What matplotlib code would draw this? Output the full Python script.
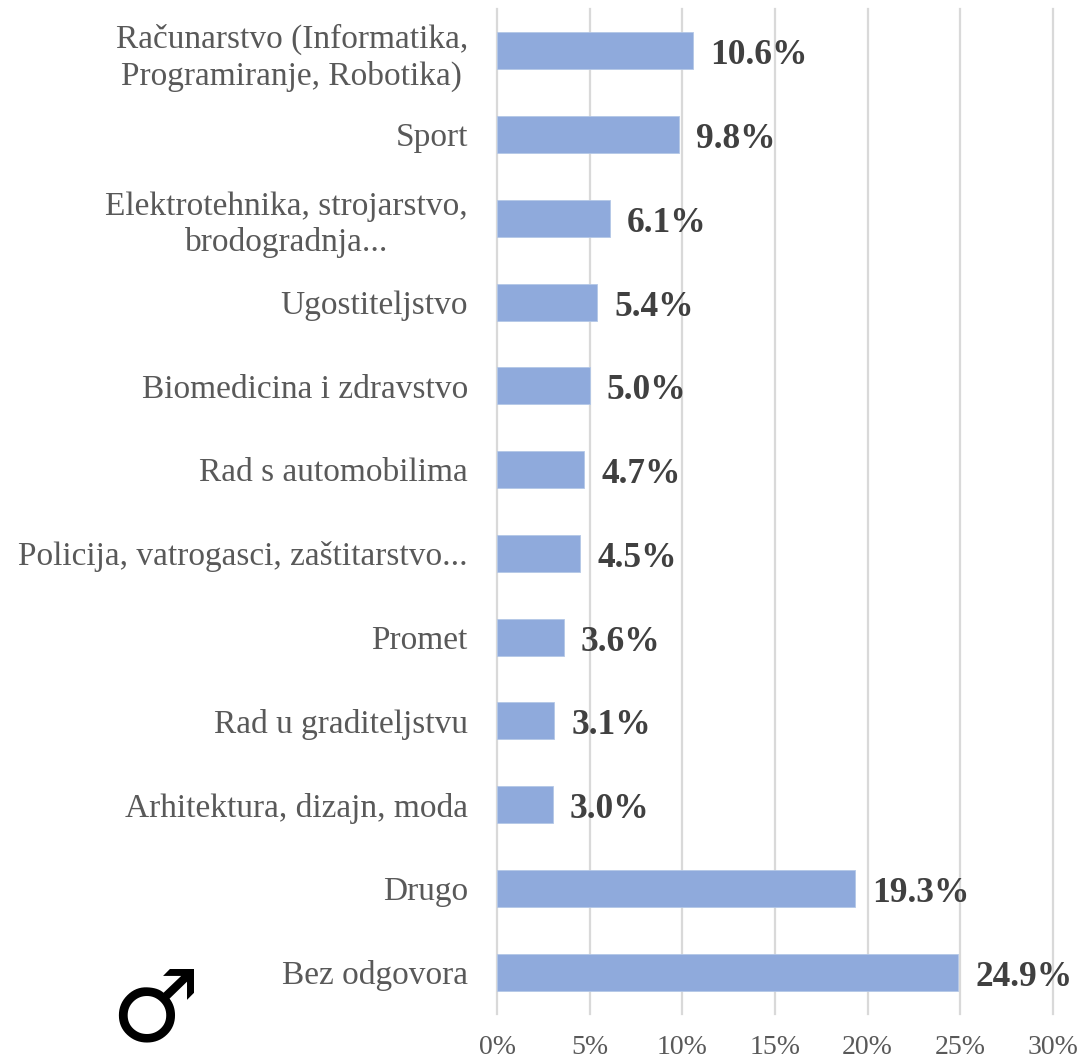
import matplotlib
matplotlib.use("Agg")
import matplotlib.pyplot as plt

W, H = 1082, 1061

categories = [
    "Računarstvo (Informatika,\nProgramiranje, Robotika)",
    "Sport",
    "Elektrotehnika, strojarstvo,\nbrodogradnja...",
    "Ugostiteljstvo",
    "Biomedicina i zdravstvo",
    "Rad s automobilima",
    "Policija, vatrogasci, zaštitarstvo...",
    "Promet",
    "Rad u graditeljstvu",
    "Arhitektura, dizajn, moda",
    "Drugo",
    "Bez odgovora",
]
values = [10.6, 9.8, 6.1, 5.4, 5.0, 4.7, 4.5, 3.6, 3.1, 3.0, 19.3, 24.9]
xticks = [0, 5, 10, 15, 20, 25, 30]

plt.rcParams['font.family'] = ['Liberation Serif', 'DejaVu Serif']

fig = plt.figure(figsize=(W / 100, H / 100), dpi=100)
# plot area in pixels: x 497..1053, y 9..1014
ax = fig.add_axes([497 / W, 1 - 1014 / H, (1053 - 497) / W, (1014 - 9) / H])

ypos = list(range(len(values)))
ax.barh(ypos, values, height=0.44, color="#8FAADC", edgecolor="#B4C7E7", linewidth=0.6, zorder=3)
ax.set_ylim(len(values) - 0.5, -0.5)
ax.set_xlim(0, 30)

ax.set_xticks(xticks)
ax.set_xticklabels([f"{t}%" for t in xticks], fontsize=20, color="#595959")
ax.set_yticks(ypos)
ax.set_yticklabels(categories, fontsize=24, color="#595959", linespacing=1.24,
                   multialignment='center')
ax.tick_params(axis='both', length=0)
ax.tick_params(axis='y', pad=21)
ax.tick_params(axis='x', pad=15)

ax.grid(axis='x', color="#D9D9D9", linewidth=1.6, zorder=0, clip_on=False)
ax.set_axisbelow(True)
for s in ax.spines.values():
    s.set_visible(False)

for y, v in zip(ypos, values):
    ax.annotate(f"{v:.1f}%", (v, y), xytext=(17, -5), textcoords='offset pixels',
                ha='left', va='center', fontsize=25.5, fontweight='bold', color="#404040",
                zorder=4)

# male symbol
fig.text(155 / W, 1 - 1013 / H, "\u2642", family='DejaVu Sans', fontsize=72,
         ha='center', va='center', color="black")

fig.savefig("out.png", dpi=100, facecolor="white")
